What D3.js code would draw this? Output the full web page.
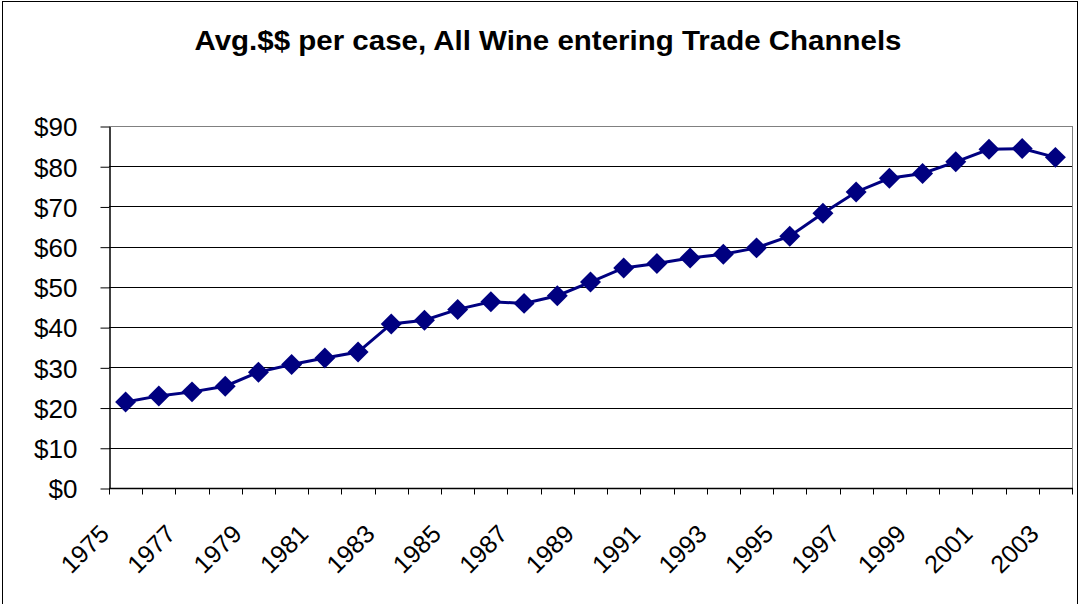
<!DOCTYPE html>
<html>
<head>
<meta charset="utf-8">
<script src="https://cdn.jsdelivr.net/npm/d3@7"></script>
<style>
  body { margin: 0; background: #fff; }
  svg { display: block; }
  text { font-family: "Liberation Sans", Arial, sans-serif; fill: #000; }
</style>
</head>
<body>
<div id="chart"></div>
<script>
var years = d3.range(1975, 2004);
var avgPrice = [21.4, 22.9, 23.9, 25.3, 28.8, 30.7, 32.3, 33.8, 40.8, 41.7,
                44.4, 46.3, 45.9, 47.8, 51.2, 54.7, 55.8, 57.2, 58.1, 59.7,
                62.6, 68.3, 73.6, 77.0, 78.2, 81.1, 84.2, 84.4, 82.2];
var yTicks = [0, 10, 20, 30, 40, 50, 60, 70, 80, 90];
var titleText = "Avg.$$ per case, All Wine entering Trade Channels";

var W = 1080, H = 604;
var plot = { left: 109, right: 1072, top: 126, bottom: 488 };

var svg = d3.select("#chart").append("svg")
  .attr("width", W)
  .attr("height", H);

// outer chart frame
svg.append("rect")
  .attr("x", 2.5).attr("y", 1.5)
  .attr("width", 1075).attr("height", 620)
  .attr("fill", "none")
  .attr("stroke", "#000")
  .attr("stroke-width", 1);

svg.append("text")
  .attr("x", 548).attr("y", 50)
  .attr("text-anchor", "middle")
  .attr("textLength", 707)
  .attr("lengthAdjust", "spacingAndGlyphs")
  .style("font-size", "27px")
  .style("font-weight", "bold")
  .text(titleText);

var x = d3.scaleBand()
  .domain(years)
  .range([plot.left, plot.right]);

var y = d3.scaleLinear()
  .domain([0, 90])
  .range([plot.bottom, plot.top]);

// gridlines
svg.append("g")
  .selectAll("line")
  .data(yTicks.slice(1))
  .enter().append("line")
  .attr("x1", plot.left).attr("x2", plot.right)
  .attr("y1", function(d){ return Math.round(y(d)) + 0.5; })
  .attr("y2", function(d){ return Math.round(y(d)) + 0.5; })
  .attr("stroke", function(d){ return d === 90 ? "#808080" : "#000"; })
  .attr("stroke-width", 1);

// plot area right border
svg.append("line")
  .attr("x1", plot.right + 0.5).attr("x2", plot.right + 0.5)
  .attr("y1", plot.top).attr("y2", plot.bottom)
  .attr("stroke", "#808080");

// y axis
var yAxis = svg.append("g")
  .attr("transform", "translate(" + (plot.left + 0.5) + ",0.5)")
  .call(d3.axisLeft(y).tickValues(yTicks).tickSize(9).tickSizeOuter(0)
    .tickFormat(function(d){ return "$" + d; }));
yAxis.select(".domain").attr("stroke", "#000").attr("stroke-width", 1.5);
yAxis.selectAll(".tick line").attr("stroke", "#000");
yAxis.selectAll(".tick text")
  .attr("x", -32)
  .attr("dy", "0.36em")
  .style("font-size", "26px")
  .style("font-family", "Liberation Sans, Arial, sans-serif");

// x axis: ticks at band edges
var edges = years.map(function(d){ return x(d); }).concat([plot.right]);
var xAxis = svg.append("g")
  .attr("transform", "translate(0," + (plot.bottom + 0.5) + ")");
xAxis.append("line")
  .attr("x1", plot.left).attr("x2", plot.right + 1)
  .attr("stroke", "#000").attr("stroke-width", 1.5);
xAxis.selectAll("line.tk")
  .data(edges)
  .enter().append("line")
  .attr("class", "tk")
  .attr("x1", function(d){ return Math.round(d) + 0.5; })
  .attr("x2", function(d){ return Math.round(d) + 0.5; })
  .attr("y1", 0).attr("y2", 6)
  .attr("stroke", "#000");
xAxis.selectAll("text")
  .data(years.filter(function(d, i){ return i % 2 === 0; }))
  .enter().append("text")
  .attr("text-anchor", "end")
  .attr("transform", function(d){
    return "translate(" + (x(d) + x.bandwidth() / 2 - 15) + ",47) rotate(-45)";
  })
  .style("font-size", "25px")
  .text(function(d){ return d; });

// line + markers
var line = d3.line()
  .x(function(d, i){ return x(years[i]) + x.bandwidth() / 2; })
  .y(function(d){ return y(d); });

svg.append("path")
  .datum(avgPrice)
  .attr("d", line)
  .attr("fill", "none")
  .attr("stroke", "#000080")
  .attr("stroke-width", 3);

svg.append("g")
  .selectAll("path")
  .data(avgPrice)
  .enter().append("path")
  .attr("d", d3.symbol().type(d3.symbolSquare).size(220))
  .attr("transform", function(d, i){
    return "translate(" + (x(years[i]) + x.bandwidth() / 2) + "," + y(d) + ") rotate(45)";
  })
  .attr("fill", "#000080");
</script>
</body>
</html>
